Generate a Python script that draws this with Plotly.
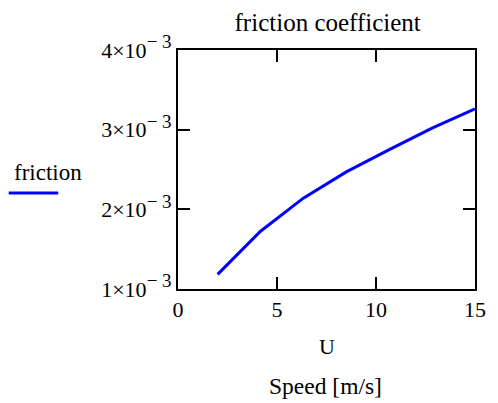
import plotly.graph_objects as go

speed = [2.0, 4.17, 6.33, 8.5, 10.67, 12.83, 15.0]
friction = [1.184e-3, 1.725e-3, 2.14e-3, 2.47e-3, 2.75e-3, 3.02e-3, 3.26e-3]

x_ticks = [0, 5, 10, 15]
y_ticks = [1e-3, 2e-3, 3e-3, 4e-3]
y_mantissa = ["1", "2", "3", "4"]
y_ticktext = [m + "×10<sup><span style=\"font-size:19px\">− 3</span></sup>" for m in y_mantissa]

FONT = "Liberation Serif"

fig = go.Figure()
fig.add_trace(go.Scatter(x=speed, y=friction, mode="lines",
                         line=dict(color="#0000ff", width=3), showlegend=False,
                         name="friction"))

axis_common = dict(showline=True, linecolor="black", linewidth=2, mirror="ticks",
                   ticks="inside", ticklen=12, tickwidth=1.5, tickcolor="black",
                   showgrid=False, zeroline=False,
                   tickfont=dict(family=FONT, size=22, color="black"))

fig.update_xaxes(range=[0, 15], tickvals=x_ticks, ticktext=[str(v) for v in x_ticks],
                 **axis_common)
fig.update_yaxes(range=[1e-3, 4e-3], tickvals=y_ticks, ticktext=y_ticktext,
                 **axis_common)

fig.update_layout(
    width=498, height=403,
    margin=dict(l=178, r=20, t=50, b=114),
    paper_bgcolor="white", plot_bgcolor="white",
    font=dict(family=FONT, size=22, color="black"),
    title=dict(text="friction coefficient", x=0.658, xanchor="center",
               y=1 - 22 / 403, yanchor="middle", yref="container",
               font=dict(family=FONT, size=25, color="black")),
)

fig.add_annotation(text="U", xref="paper", yref="paper", x=0.5, y=-57 / 239,
                   yanchor="middle", showarrow=False,
                   font=dict(family=FONT, size=22, color="black"))
fig.add_annotation(text="Speed [m/s]", xref="paper", yref="paper", x=0.497, y=-97 / 239,
                   yanchor="middle", showarrow=False,
                   font=dict(family=FONT, size=23.5, color="black"))
fig.add_annotation(text="friction", xref="paper", yref="paper",
                   x=-168 / 300, xanchor="left", y=(289 - 172) / 239, yanchor="middle",
                   showarrow=False, font=dict(family=FONT, size=23, color="black"))
fig.add_shape(type="line", xref="paper", yref="paper",
              x0=-171 / 300, x1=-121 / 300, y0=(289 - 193) / 239, y1=(289 - 193) / 239,
              line=dict(color="#0000ff", width=3))

fig.write_html("out.html")
